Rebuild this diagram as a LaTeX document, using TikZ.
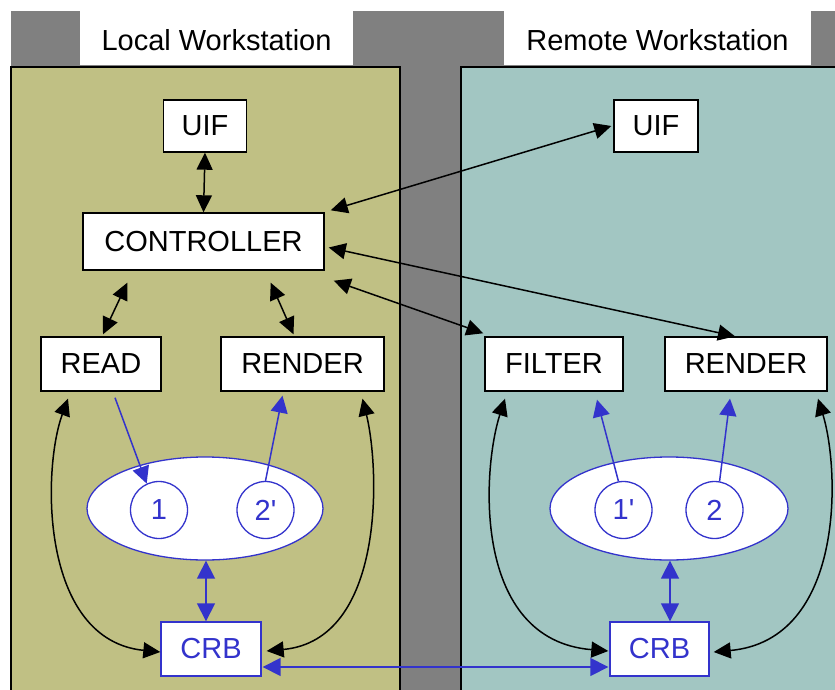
\documentclass[tikz,border=0pt]{standalone}
\usepackage{fontspec}
\setmainfont{Liberation Sans}
\usetikzlibrary{arrows.meta,shapes.geometric}

\definecolor{panelgray}{RGB}{128,128,128}
\definecolor{localbg}{RGB}{192,192,132}
\definecolor{remotebg}{RGB}{162,198,194}
\definecolor{flowblue}{RGB}{51,51,204}

\tikzset{
  lbl/.style={font=\fontsize{29}{34}\selectfont},
  box/.style={draw=black, line width=1.4pt, fill=white, lbl, inner sep=0pt},
  bluebox/.style={box, draw=flowblue, text=flowblue},
  pool/.style={ellipse, draw=flowblue, line width=1.3pt, fill=white, inner sep=0pt},
  slot/.style={circle, draw=flowblue, line width=1.3pt, fill=white, text=flowblue, lbl, inner sep=0pt, minimum size=57pt},
  link/.style={black, line width=1.5pt, {Triangle[length=17pt,width=16pt]}-{Triangle[length=17pt,width=16pt]}},
  blink/.style={flowblue, line width=1.6pt, {Triangle[length=18pt,width=18pt]}-{Triangle[length=18pt,width=18pt]}},
  bflow/.style={flowblue, line width=1.5pt, -{Triangle[length=17pt,width=17pt]}},
}

\begin{document}
\begin{tikzpicture}[x=1pt,y=-1pt]
  % canvas and backdrop
  \useasboundingbox (0,0) rectangle (835,690);
  \fill[white] (0,0) rectangle (835,690);
  \fill[panelgray] (11,11) rectangle (835,690);

  % workstation panels with title tabs
  \fill[white] (80,11) rectangle (353,65);
  \node[lbl] (titleL) at (216.5,40) {Local Workstation};
  \fill[white] (504,11) rectangle (811,65);
  \node[lbl] (titleR) at (657.5,40) {Remote Workstation};
  \draw[fill=localbg, line width=1.2pt] (11,67) rectangle (400,695);
  \draw[fill=remotebg, line width=1.2pt] (461,67) rectangle (840,695);

  % local workstation modules
  \node[box, minimum width=83pt, minimum height=52pt] (uifL) at (205,126) {UIF};
  \node[box, minimum width=241pt, minimum height=57pt] (ctrl) at (203.5,241.5) {CONTROLLER};
  \node[box, minimum width=120pt, minimum height=54pt] (read) at (101,364) {READ};
  \node[box, minimum width=163pt, minimum height=54pt] (renderL) at (302.5,364) {RENDER};
  \node[pool, minimum width=236pt, minimum height=103pt] (poolL) at (205,508.5) {};
  \node[slot] (c1) at (159,510) {1};
  \node[slot] (c2p) at (265.5,510) {2\textquotesingle};
  \node[bluebox, minimum width=100pt, minimum height=54pt] (crbL) at (211,649) {CRB};

  % remote workstation modules
  \node[box, minimum width=84pt, minimum height=52pt] (uifR) at (656,126) {UIF};
  \node[box, minimum width=138pt, minimum height=54pt] (filter) at (554,364) {FILTER};
  \node[box, minimum width=162pt, minimum height=54pt] (renderR) at (746,364) {RENDER};
  \node[pool, minimum width=238pt, minimum height=103pt] (poolR) at (669,508.5) {};
  \node[slot] (c1p) at (623.5,510) {1\textquotesingle};
  \node[slot] (c2) at (714.5,510) {2};
  \node[bluebox, minimum width=99pt, minimum height=54pt] (crbR) at (659.5,649) {CRB};

  % control links
  \draw[link] (uifL.south) -- (ctrl.north);
  \draw[link] ([xshift=-2pt]uifR.west) -- ([xshift=6pt,yshift=2pt]ctrl.north east);
  \draw[link] ([xshift=4pt,yshift=-6pt]ctrl.east) -- ([xshift=-11pt]renderR.north);
  \draw[link] ([xshift=9pt,yshift=-10pt]ctrl.south east) -- ([xshift=-1pt,yshift=3pt]filter.north west);
  \draw[link] ([xshift=45pt,yshift=-12pt]ctrl.south west) -- ([xshift=2pt,yshift=2pt]read.north);
  \draw[link] ([xshift=-54pt,yshift=-12pt]ctrl.south east) -- ([xshift=-9pt,yshift=2pt]renderL.north);

  % local data paths
  \draw[link] ([xshift=-33pt,yshift=-7pt]read.south)
      .. controls (42,470) and (40,640) .. ([yshift=-3pt]crbL.west);
  \draw[link] ([xshift=60pt,yshift=-7pt]renderL.south)
      .. controls (380,470) and (385,640) .. ([xshift=5pt,yshift=-2pt]crbL.east);
  \draw[bflow] ([xshift=14pt,yshift=-6pt]read.south) -- (c1.115);
  \draw[bflow] (c2p.north) -- ([xshift=-20pt,yshift=-4pt]renderL.south);
  \draw[blink] ([xshift=1pt]poolL.south) -- ([xshift=1pt]poolL.south |- crbL.north);

  % remote data paths
  \draw[link] ([xshift=-49pt,yshift=-7pt]filter.south)
      .. controls (482,470) and (472,640) .. ([xshift=-1pt,yshift=-2pt]crbR.west);
  \draw[link] ([xshift=72pt,yshift=-7pt]renderR.south)
      .. controls (840,470) and (845,640) .. ([xshift=4pt,yshift=-3pt]crbR.east);
  \draw[bflow] (c1p.100) -- ([xshift=43pt,yshift=-8pt]filter.south);
  \draw[bflow] (c2.80) -- ([xshift=-16pt,yshift=-7pt]renderR.south);
  \draw[blink] ([xshift=1pt]poolR.south) -- ([xshift=1pt]poolR.south |- crbR.north);

  % buffer transfer between workstations
  \draw[blink] ([xshift=1pt,yshift=-18pt]crbL.east) -- ([xshift=-1pt,yshift=-18pt]crbR.west);
\end{tikzpicture}
\end{document}
